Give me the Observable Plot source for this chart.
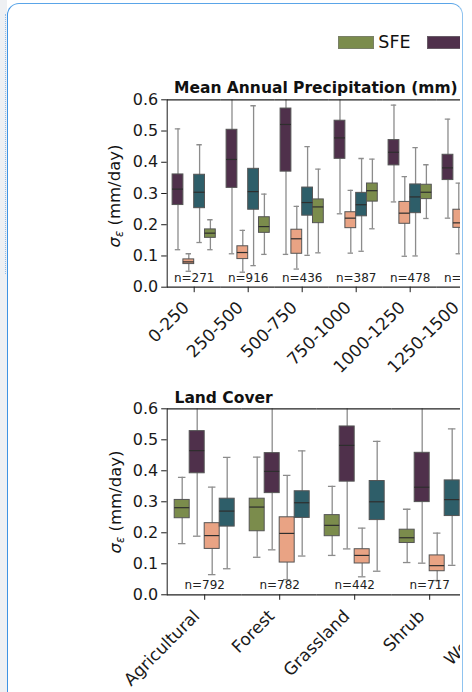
<!DOCTYPE html>
<html><head><meta charset="utf-8">
<script src="https://cdn.jsdelivr.net/npm/d3@7"></script>
<script src="https://cdn.jsdelivr.net/npm/@observablehq/plot@0.6"></script>
<style>
html,body{margin:0;padding:0;background:#fff;width:472px;height:692px;overflow:hidden;font-family:"DejaVu Sans",sans-serif;}
#strip{position:absolute;left:0;top:0;width:7px;height:692px;background:#eef0f3;}
#dots{position:absolute;left:5px;top:14px;width:0;height:260px;border-left:1px dotted rgba(70,150,230,0.55);}
#card{position:absolute;left:7px;top:3px;width:456px;height:760px;border:1.6px solid #3f93e3;border-right-color:#8fc3ef;border-top-color:#5aa5e8;border-radius:12px;box-sizing:border-box;}
#clip{position:absolute;left:0;top:0;width:459.5px;height:692px;overflow:hidden;}
#clip svg{max-width:none !important;}
.title{position:absolute;font-family:"DejaVu Sans";font-weight:bold;font-size:15.5px;line-height:15.5px;color:#111;white-space:nowrap;}
.ylab{position:absolute;font-family:"DejaVu Sans";font-size:16.5px;line-height:16.5px;color:#111;white-space:nowrap;transform:translate(-50%,-50%) rotate(-90deg);}
.ylab i{font-style:italic;}
.ylab sub{font-size:70%;font-style:italic;vertical-align:-0.25em;line-height:0;}
#legend{position:absolute;left:338.3px;top:36px;display:flex;align-items:center;height:12.7px;white-space:nowrap;}
.sw{width:35.7px;height:12.7px;box-sizing:border-box;border:0.8px solid rgba(120,120,120,0.6);flex:none;}
.lb{font-family:"DejaVu Sans";font-size:17.5px;line-height:17.5px;color:#111;margin-left:4.3px;margin-right:16.8px;}
</style></head>
<body>
<div id="strip"></div><div id="dots"></div>
<div id="card"></div>
<div id="clip"></div>
<script>
// ---------- data ----------
const seriesKeys = ["SFE", "P2", "P3", "P4"];
const seriesColors = ["#7b8c4c", "#4f304b", "#e9a384", "#2e5e69"];
const legendLabels = ["SFE", "", "", ""];

// Mean annual precipitation panel (each entry: [whisker low, Q1, median, Q3, whisker high])
const precipCats = ["0-250", "250-500", "500-750", "750-1000", "1000-1250", "1250-1500"];
const precipN = [271, 916, 436, 387, 478, 402];
const precipOrder = ["P2", "P3", "P4", "SFE"];
const precipSFE = [[0.120,0.158,0.173,0.185,0.216],[0.105,0.174,0.194,0.224,0.298],[0.110,0.205,0.257,0.281,0.378],[0.187,0.274,0.309,0.332,0.410],[0.220,0.282,0.304,0.328,0.392],[0.230,0.290,0.310,0.335,0.400]];
const precipP2  = [[0.120,0.263,0.314,0.361,0.507],[0.107,0.318,0.409,0.504,0.680],[0.105,0.370,0.521,0.572,0.720],[0.235,0.411,0.478,0.533,0.700],[0.273,0.390,0.432,0.471,0.583],[0.221,0.343,0.382,0.424,0.538]];
const precipP3  = [[0.051,0.074,0.081,0.089,0.107],[0.048,0.090,0.111,0.131,0.182],[0.058,0.107,0.155,0.184,0.259],[0.109,0.189,0.221,0.240,0.310],[0.099,0.203,0.237,0.273,0.354],[0.107,0.190,0.206,0.248,0.333]];
const precipP4  = [[0.143,0.253,0.304,0.360,0.456],[0.069,0.248,0.306,0.379,0.581],[0.102,0.229,0.271,0.319,0.450],[0.115,0.227,0.264,0.302,0.412],[0.100,0.237,0.289,0.329,0.447],[0.110,0.240,0.285,0.330,0.450]];

// Land cover panel
const landCats = ["Agricultural", "Forest", "Grassland", "Shrub", "Wetland"];
const landN = [792, 782, 442, 717, 310];
const landOrder = ["SFE", "P2", "P3", "P4"];
const landSFE = [[0.165,0.247,0.281,0.306,0.379],[0.121,0.205,0.283,0.310,0.444],[0.127,0.189,0.224,0.257,0.350],[0.104,0.167,0.184,0.210,0.276],[0.150,0.220,0.260,0.300,0.400]];
const landP2  = [[0.189,0.392,0.465,0.528,0.700],[0.145,0.328,0.398,0.457,0.650],[0.148,0.365,0.482,0.543,0.800],[0.102,0.299,0.347,0.458,0.700],[0.150,0.330,0.400,0.470,0.650]];
const landP3  = [[0.065,0.148,0.191,0.231,0.347],[0.049,0.104,0.198,0.250,0.385],[0.058,0.101,0.127,0.147,0.215],[0.046,0.076,0.094,0.127,0.199],[0.060,0.120,0.160,0.210,0.330]];
const landP4  = [[0.084,0.220,0.270,0.310,0.443],[0.125,0.248,0.297,0.334,0.464],[0.076,0.241,0.300,0.367,0.495],[0.095,0.254,0.307,0.369,0.535],[0.100,0.240,0.300,0.360,0.500]];

const yTicks = [0, 0.1, 0.2, 0.3, 0.4, 0.5, 0.6];

// ---------- build ----------
function toRows(cats, bySeries) {
  return cats.flatMap((c, i) => seriesKeys.map(s => {
    const v = bySeries[s][i];
    return {cat: c, series: s, lo: v[0], q1: v[1], med: v[2], q3: v[3], hi: v[4]};
  }));
}

function makePanel(cfg) {
  const {cats, ns, rows, order, band, marginTop, marginBottom, marginLeft, plotH, labelShift} = cfg;
  const bw = band / 5;
  const cap = bw / 4;
  const nRows = cats.map((c, i) => ({cat: c, n: ns[i]}));
  const width = marginLeft + band * cats.length + 10;
  const svg = Plot.plot({
    width, height: marginTop + plotH + marginBottom,
    marginTop, marginBottom, marginLeft, marginRight: 10,
    style: {fontFamily: "DejaVu Sans", fontSize: "16px", color: "#1a1a1a", background: "transparent", overflow: "visible", maxWidth: "none"},
    fx: {domain: cats, padding: 0, round: false, label: null, tickRotate: -45, tickSize: 5.5, tickPadding: 3, axis: "bottom"},
    x: {domain: order, paddingInner: 0, paddingOuter: 0.5, round: false, axis: null},
    y: {domain: [0, 0.6], ticks: yTicks, tickFormat: ".1f", tickSize: 5.5, tickPadding: 3.5, line: true, label: null},
    color: {domain: seriesKeys, range: seriesColors},
    marks: [
      Plot.ruleX(rows, {fx: "cat", x: "series", y1: "lo", y2: "hi", stroke: "#8c8c8c", strokeWidth: 1.3, clip: true}),
      Plot.tickY(rows, {fx: "cat", x: "series", y: "lo", stroke: "#8c8c8c", strokeWidth: 1.3, insetLeft: cap, insetRight: cap}),
      Plot.tickY(rows, {fx: "cat", x: "series", y: "hi", stroke: "#8c8c8c", strokeWidth: 1.3, insetLeft: cap, insetRight: cap, clip: true}),
      Plot.barY(rows, {fx: "cat", x: "series", y1: "q1", y2: "q3", fill: "series", stroke: "#555", strokeWidth: 1, clip: true}),
      Plot.tickY(rows, {fx: "cat", x: "series", y: "med", stroke: "#2e2e2e", strokeWidth: 1.2}),
      Plot.text(nRows, {fx: "cat", text: d => "n=" + d.n, frameAnchor: "bottom", dy: -5.5, fontSize: 12, fill: "#222"}),
      Plot.ruleY([0, 0.6], {stroke: "#222", strokeWidth: 1.2})
    ]
  });
  svg.style.maxWidth = "none";
  // shift rotated category labels like matplotlib's right/top-aligned rotated labels
  d3.select(svg).selectAll('g[aria-label="fx-axis tick label"]').each(function() {
    const el = d3.select(this);
    const t = el.attr("transform") || "";
    el.attr("transform", `translate(${labelShift[0]},${labelShift[1]}) ` + t);
    el.attr("font-size", "17");
  });
  return svg;
}

const clip = document.getElementById("clip");

function place(el, left, top) {
  el.style.position = "absolute";
  el.style.left = left + "px";
  el.style.top = top + "px";
  clip.appendChild(el);
}

// legend
const legend = document.createElement("div");
legend.id = "legend";
seriesKeys.forEach((s, i) => {
  const sw = document.createElement("div");
  sw.className = "sw";
  sw.style.background = seriesColors[i];
  legend.appendChild(sw);
  const lb = document.createElement("span");
  lb.className = "lb";
  lb.textContent = legendLabels[i];
  legend.appendChild(lb);
});
clip.appendChild(legend);

function addTitle(text, left, top) {
  const t = document.createElement("div");
  t.className = "title";
  t.textContent = text;
  t.style.left = left + "px";
  t.style.top = top + "px";
  clip.appendChild(t);
}
function addYLabel(cx, cy) {
  const t = document.createElement("div");
  t.className = "ylab";
  t.innerHTML = "<i>σ</i><sub>ε</sub> (mm/day)";
  t.style.left = cx + "px";
  t.style.top = cy + "px";
  clip.appendChild(t);
}

const precipRows = toRows(precipCats, {SFE: precipSFE, P2: precipP2, P3: precipP3, P4: precipP4});
const landRows = toRows(landCats, {SFE: landSFE, P2: landP2, P3: landP3, P4: landP4});

const top1 = makePanel({cats: precipCats, ns: precipN, rows: precipRows, order: precipOrder, band: 54,
  marginTop: 29.3, plotH: 187.4, marginBottom: 93.3, marginLeft: 156.7, labelShift: [-8, 9]});
place(top1, 10, 70);
addTitle("Mean Annual Precipitation (mm)", 174, 80.9);
addYLabel(114.5, 196);

const bot = makePanel({cats: landCats, ns: landN, rows: landRows, order: landOrder, band: 75,
  marginTop: 28.3, plotH: 186, marginBottom: 97.7, marginLeft: 156.7, labelShift: [-8, 10]});
place(bot, 10, 380);
addTitle("Land Cover", 174.5, 391);
addYLabel(115.5, 501.5);
</script>
</body></html>
